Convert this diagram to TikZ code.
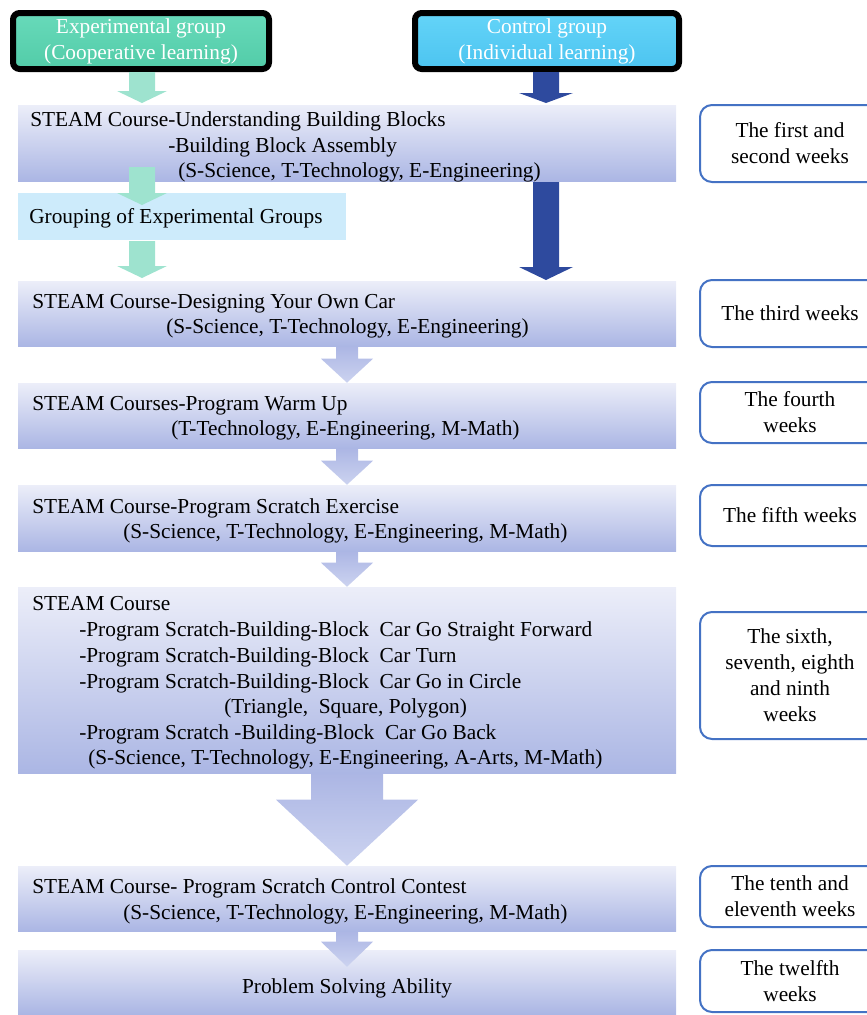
\documentclass[tikz,border=0pt]{standalone}
\usepackage{fontspec}
\setmainfont{Liberation Serif}
\usetikzlibrary{calc}
\definecolor{exp_top}{RGB}{104,218,186}
\definecolor{exp_bot}{RGB}{82,204,168}
\definecolor{ctrl_top}{RGB}{100,212,248}
\definecolor{ctrl_bot}{RGB}{76,196,240}
\definecolor{green_arrow}{RGB}{158,227,207}
\definecolor{blue_arrow}{RGB}{46,74,158}
\definecolor{grp_blue}{RGB}{205,235,251}
\definecolor{lav_top}{RGB}{236,238,249}
\definecolor{lav_bot}{RGB}{171,182,228}
\definecolor{arr_top}{RGB}{172,182,228}
\definecolor{arr_bot}{RGB}{204,211,240}
\definecolor{week_blue}{RGB}{68,114,196}

% block arrow: style, start, tip, half shaft, half head, head length (px)
\newcommand{\blockarrow}[6]{%
  \path[#1] ($(#2)+(-#4,0)$) -- ($(#3)+(-#4,-#6)$) -- ($(#3)+(-#5,-#6)$) -- (#3)
    -- ($(#3)+(#5,-#6)$) -- ($(#3)+(#4,-#6)$) -- ($(#2)+(#4,0)$) -- cycle;}

\tikzset{
  grpbox/.style={draw=black,line width=4.5pt,rounded corners=5pt,inner sep=0pt,
    minimum height=42pt,align=center,text=white},
  stepbox/.style={rectangle,inner sep=0pt,top color=lav_top,bottom color=lav_bot,
    minimum width=493.5pt},
  weekbox/.style={draw=week_blue,line width=1.5pt,rounded corners=9pt,fill=white,
    minimum width=135pt,inner sep=0pt,align=center},
  txt/.style={anchor=base west,inner sep=0pt},
  lavarrow/.style={top color=arr_top,bottom color=arr_bot},
}

\begin{document}
\begin{tikzpicture}[x=0.75pt,y=-0.75pt,font=\fontsize{16}{19.5}\selectfont]
	\useasboundingbox (0,0) rectangle (867,1015);

	% two groups
	\node[grpbox,top color=exp_top,bottom color=exp_bot,minimum width=192pt] (expg) at (141,41) {Experimental group\\(Cooperative learning)};
	\node[grpbox,top color=ctrl_top,bottom color=ctrl_bot,minimum width=198pt] (ctrlg) at (547,41) {Control group\\(Individual learning)};

	% course steps
	\node[stepbox,minimum height=57pt] (box1) at (347,143) {};
	\node[rectangle,fill=grp_blue,minimum width=246pt,minimum height=35.25pt,inner sep=0pt] (grp) at (182,216.5) {};
	\node[stepbox,minimum height=48.75pt] (box2) at (347,313.5) {};
	\node[stepbox,minimum height=48.75pt] (box3) at (347,415.5) {};
	\node[stepbox,minimum height=49.5pt] (box4) at (347,518) {};
	\node[stepbox,minimum height=139.5pt] (box5) at (347,680) {};
	\node[stepbox,minimum height=48.75pt] (box6) at (347,898.5) {};
	\node[stepbox,minimum height=48pt] (box7) at (347,982) {};

	\node[txt] (l1a) at (30,126) {STEAM Course-Understanding Building Blocks};
	\node[txt] (l1b) at (168,152) {-Building Block Assembly};
	\node[txt] (l1c) at (178,177) {(S-Science, T-Technology, E-Engineering)};
	\node[txt] (lgrp) at (29,223) {Grouping of Experimental Groups};
	\node[txt] (l2a) at (32,308) {STEAM Course-Designing Your Own Car};
	\node[txt] (l2b) at (166,333) {(S-Science, T-Technology, E-Engineering)};
	\node[txt] (l3a) at (32,410) {STEAM Courses-Program Warm Up};
	\node[txt] (l3b) at (171,435) {(T-Technology, E-Engineering, M-Math)};
	\node[txt] (l4a) at (32,513) {STEAM Course-Program Scratch Exercise};
	\node[txt] (l4b) at (123,538) {(S-Science, T-Technology, E-Engineering, M-Math)};
	\node[txt] (l5a) at (32,610) {STEAM Course};
	\node[txt] (l5b) at (79,636) {-Program Scratch-Building-Block~ Car Go Straight Forward};
	\node[txt] (l5c) at (79,662) {-Program Scratch-Building-Block~ Car Turn};
	\node[txt] (l5d) at (79,688) {-Program Scratch-Building-Block~ Car Go in Circle};
	\node[txt] (l5e) at (224,713) {(Triangle,~ Square, Polygon)};
	\node[txt] (l5f) at (79,739) {-Program Scratch -Building-Block~ Car Go Back};
	\node[txt] (l5g) at (88,764) {(S-Science, T-Technology, E-Engineering, A-Arts, M-Math)};
	\node[txt] (l6a) at (32,893) {STEAM Course- Program Scratch Control Contest};
	\node[txt] (l6b) at (123,919) {(S-Science, T-Technology, E-Engineering, M-Math)};
	\node[inner sep=0pt,anchor=base] (l7) at (347,993) {Problem Solving Ability};

	% weeks
	\node[weekbox,minimum height=57.75pt] (wk1) at (790,143.5) {The first and\\second weeks};
	\node[weekbox,minimum height=50.25pt] (wk2) at (790,313.5) {The third weeks};
	\node[weekbox,minimum height=45.75pt] (wk3) at (790,412.5) {The fourth\\weeks};
	\node[weekbox,minimum height=45.75pt] (wk4) at (790,515.5) {The fifth weeks};
	\node[weekbox,minimum height=95.25pt] (wk5) at (790,675.5) {The sixth,\\seventh, eighth\\and ninth\\weeks};
	\node[weekbox,minimum height=45.75pt] (wk6) at (790,896.5) {The tenth and\\eleventh weeks};
	\node[weekbox,minimum height=46.5pt] (wk7) at (790,981) {The twelfth\\weeks};

	% arrows
	\coordinate (g1) at (142,72);   \coordinate (g1t) at (142,103);
	\coordinate (g2) at (142,167);  \coordinate (g2t) at (142,205);
	\coordinate (g3) at (142,241);  \coordinate (g3t) at (142,278);
	\coordinate (b1) at (546,72);   \coordinate (b1t) at (546,103);
	\coordinate (b2) at (546,182);  \coordinate (b2t) at (546,280);
	\coordinate (t7) at ($(box7.north)+(0,17)$);

	\blockarrow{fill=green_arrow}{g1}{g1t}{13}{25}{12}
	\blockarrow{fill=green_arrow}{g2}{g2t}{13}{25}{12}
	\blockarrow{fill=green_arrow}{g3}{g3t}{13}{25}{12}
	\blockarrow{fill=blue_arrow}{b1}{b1t}{13}{27}{10}
	\blockarrow{fill=blue_arrow}{b2}{b2t}{13}{27}{13}

	\foreach \x/\y in {box2/box3,box3/box4,box4/box5}
		{\blockarrow{lavarrow}{\x.south}{\y.north}{11}{26}{24}}
	\blockarrow{lavarrow}{box5.south}{box6.north}{36}{71}{66}
	\blockarrow{lavarrow}{box6.south}{t7}{11}{26}{25}
\end{tikzpicture}
\end{document}
